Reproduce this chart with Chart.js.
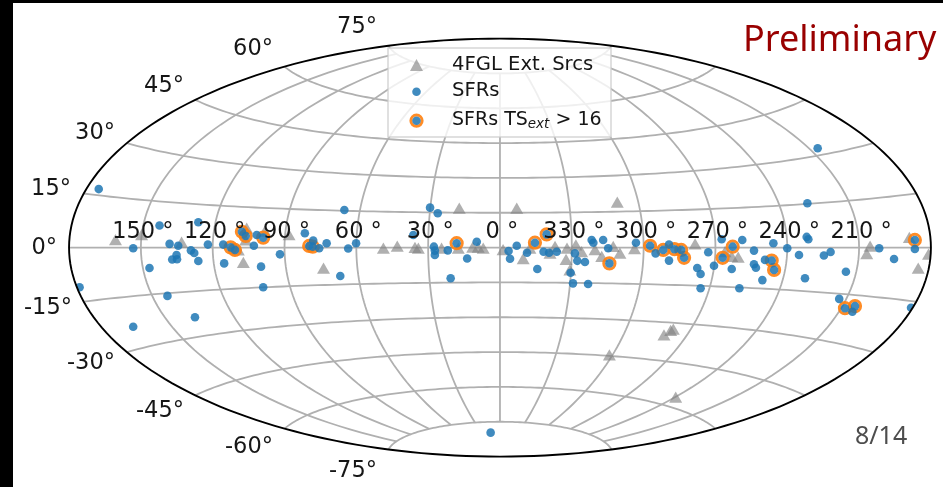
<!DOCTYPE html>
<html>
<head>
<meta charset="utf-8">
<title>SFR sky map</title>
<script src="https://cdn.jsdelivr.net/npm/chart.js@4"></script>
<style>
html,body{margin:0;padding:0;background:#fff;width:943px;height:487px;overflow:hidden}
#wrap{position:relative;width:943px;height:487px;overflow:hidden}
canvas{position:absolute;left:0;top:0;filter:blur(0.55px)}
.bar{position:absolute;background:#000}
#prelim{position:absolute;left:743px;top:14px;font:36px/48px "Noto Sans",sans-serif;color:#990000;white-space:nowrap}
#page{position:absolute;left:855px;top:418px;font:25px/32px "Noto Sans",sans-serif;color:#4d4d4d;white-space:nowrap}
</style>
</head>
<body>
<div id="wrap">
<canvas id="c" width="943" height="487"></canvas>
<div class="bar" style="left:0;top:0;width:13px;height:487px"></div>
<div class="bar" style="left:0;top:0;width:943px;height:3px"></div>
<div id="prelim">Preliminary</div>
<div id="page">8/14</div>
</div>
<script>
// Projected sky coordinates in degrees (Aitoff plane): x to the right, y up.
const extSrcX = [-160.6,-149.7,-133.0,-107.2,-109.3,-105.8,-106.2,-98.2,-88.1,-73.7,-48.7,-42.9,-35.5,-34.1,-24.4,-17.4,-17.0,-11.4,-9.1,-7.0,1.3,7.0,9.7,12.5,20.9,23.0,27.6,28.0,29.2,31.7,34.1,39.7,42.5,47.3,49.0,50.1,45.7,56.2,81.5,94.0,96.8,99.5,72.4,71.3,68.5,73.4,153.2,154.6,171.0,174.7,179.0];
const extSrcY = [2.6,4.8,1.6,-7.2,-1.8,7.6,2.5,6.3,4.8,-9.6,-1.0,-0.2,-0.7,-1.0,-1.0,-1.0,16.2,-0.6,-0.6,-1.0,-1.7,16.2,-5.6,-1.0,-3.2,-0.3,-5.9,-1.0,-10.4,0.4,-2.5,-1.7,-4.6,-0.3,18.8,-3.2,-47.0,-1.3,0.8,-2.5,-4.6,-4.9,-35.9,-36.5,-38.4,-65.2,-3.4,-0.2,3.6,-9.6,-3.6];
const sfrX = [-167.6,-142.2,-126.0,-153.2,-138.0,-134.4,-146.4,-136.9,-134.9,-135.1,-129.1,-127.7,-126.0,-122.0,-115.6,-115.2,-102.8,-99.8,-98.9,-138.9,-175.6,-91.9,-101.6,-81.5,-153.2,-127.4,-65.0,-78.0,-72.4,-75.5,-63.4,-60.1,-66.7,-36.2,-29.2,-26.0,-27.6,-27.2,-27.2,-21.8,-13.7,-9.7,-20.6,7.0,3.6,4.2,11.3,15.6,18.2,20.5,23.7,38.3,39.0,43.1,45.2,56.8,31.3,32.3,35.5,29.5,30.5,36.8,65.0,70.6,70.6,87.0,82.4,83.8,89.4,92.6,101.2,96.8,106.1,106.1,106.9,110.7,109.6,114.2,120.0,124.9,127.4,128.1,128.8,135.3,138.1,128.4,83.8,100.0,132.7,144.5,158.4,164.6,141.7,173.3,171.7,147.2,-3.9];
const sfrY = [25.2,9.5,10.9,-0.3,1.6,0.8,-8.8,-5.1,-5.0,-3.2,-1.2,-2.3,-5.8,1.3,1.3,-6.8,0.8,-8.2,-17.1,-20.8,-17.1,-2.9,5.4,6.2,-34.1,-30.0,16.2,3.0,1.9,-0.3,-0.4,1.9,-12.2,5.4,17.2,14.8,0.4,-3.2,-1.3,-1.2,-4.7,2.5,-13.2,0.8,-1.5,-4.8,-2.2,-9.2,-1.8,-2.2,-1.8,3.3,2.1,3.3,-0.3,2.1,-2.5,-5.7,-6.2,-10.8,-15.4,-15.7,-2.5,1.3,-5.6,-2.0,-8.8,-11.4,-7.8,3.6,3.3,-9.2,-1.3,-7.2,-8.7,-5.3,-14.0,1.9,-0.3,-3.2,-13.2,4.6,3.6,-3.4,-1.9,19.1,-17.5,-17.5,42.8,-10.4,-0.3,-4.9,-22.1,-0.6,-25.9,-27.6,-79.7];
const sfrExtX = [-107.8,-106.2,-98.9,-112.5,-110.7,-79.7,-78.2,-18.1,19.5,14.6,45.7,62.7,68.2,72.9,75.7,76.9,97.2,93.0,113.5,114.5,173.3,144.1,148.3];
const sfrExtY = [6.8,5.0,4.3,0.1,-1.0,0.7,0.4,1.9,5.7,2.1,-6.8,0.8,-1.0,-0.7,-1.0,-4.4,0.4,-4.4,-5.6,-9.6,3.3,-26.1,-25.2];

const lonTickValues = [150,120,90,60,30,0,-30,-60,-90,-120,-150];
const lonTickLabels = ['150 °','120 °','90 °','60 °','30 °','0 °','330 °','300 °','270 °','240 °','210 °'];
const latTickLabels = ['75°','60°','45°','30°','15°','0°','-15°','-30°','-45°','-60°','-75°'];
const legendLabels = ['4FGL Ext. Srcs','SFRs','SFRs TS'];

// Layout only
const latLabelAnchor = [[377,33],[273,55],[184,92],[115,139],[71,195],[57,254],[72,314],[115,369],[184,417],[273,453],[377,477]];
const GRID = '#b0b0b0', TXT = '#161616', GREY = 'rgba(128,128,128,0.62)', BLUE = 'rgba(31,119,180,0.85)', ORANGE = 'rgba(255,127,14,0.9)';

const rad = Math.PI/180;
function aitoff(lonDeg, latDeg){
  const l = lonDeg*rad/2, p = latDeg*rad;
  const a = Math.acos(Math.cos(p)*Math.cos(l));
  const s = a < 1e-6 ? 1 : Math.sin(a)/a;
  return [2*Math.cos(p)*Math.sin(l)/s/rad, Math.sin(p)/s/rad];
}
function pts(xs, ys){ return xs.map((x,i)=>({x:x,y:ys[i]})); }

function tracePath(ctx, chart, n, f){
  const sx = chart.scales.x, sy = chart.scales.y;
  ctx.beginPath();
  for(let i=0;i<=n;i++){
    const q = f(i/n);
    const px = sx.getPixelForValue(q[0]), py = sy.getPixelForValue(q[1]);
    i ? ctx.lineTo(px,py) : ctx.moveTo(px,py);
  }
}
const outline = t => { const a = t*2*Math.PI; return [180*Math.cos(a), 90*Math.sin(a)]; };

const skyMap = {
  id:'skyMap',
  beforeDatasetsDraw(chart){
    const ctx = chart.ctx;
    ctx.save();
    ctx.strokeStyle = GRID; ctx.lineWidth = 1.8;
    for(let lat=-75; lat<=75; lat+=15){
      tracePath(ctx, chart, 120, t => aitoff(-180+360*t, lat)); ctx.stroke();
    }
    for(let lon=-150; lon<=150; lon+=30){
      tracePath(ctx, chart, 80, t => aitoff(lon, -75+150*t)); ctx.stroke();
    }
    ctx.restore();
    ctx.save();
    tracePath(ctx, chart, 240, outline);
    ctx.clip();
  },
  afterDatasetsDraw(chart){
    const ctx = chart.ctx, sx = chart.scales.x, sy = chart.scales.y;
    ctx.restore();
    ctx.save();
    ctx.strokeStyle = '#000'; ctx.lineWidth = 1.9;
    tracePath(ctx, chart, 240, outline); ctx.stroke();

    ctx.fillStyle = TXT;
    ctx.font = '22.5px "DejaVu Sans"';
    ctx.textBaseline = 'alphabetic';
    ctx.textAlign = 'center';
    lonTickLabels.forEach((s,i)=>{
      ctx.fillText(s, sx.getPixelForValue(-lonTickValues[i])+2, 238);
    });
    ctx.textAlign = 'right';
    latTickLabels.forEach((s,i)=>{
      ctx.fillText(s, latLabelAnchor[i][0], latLabelAnchor[i][1]);
    });

    // legend
    ctx.fillStyle = 'rgba(255,255,255,0.8)';
    ctx.fillRect(388,48,223,89);
    ctx.strokeStyle = 'rgba(204,204,204,0.8)'; ctx.lineWidth = 1.5;
    ctx.strokeRect(388,48,223,89);
    const mx = 416.5;
    ctx.fillStyle = GREY;
    ctx.beginPath(); ctx.moveTo(mx,59); ctx.lineTo(mx+6.5,71); ctx.lineTo(mx-6.5,71); ctx.closePath(); ctx.fill();
    ctx.fillStyle = BLUE;
    ctx.beginPath(); ctx.arc(mx,91.7,4.3,0,7); ctx.fill();
    ctx.strokeStyle = ORANGE; ctx.lineWidth = 3;
    ctx.beginPath(); ctx.arc(mx,120.7,5.6,0,7); ctx.stroke();
    ctx.fillStyle = BLUE;
    ctx.beginPath(); ctx.arc(mx,120.7,4.3,0,7); ctx.fill();

    ctx.fillStyle = TXT; ctx.textAlign = 'left';
    ctx.font = '19.6px "DejaVu Sans"';
    ctx.fillText(legendLabels[0], 452, 70);
    ctx.fillText(legendLabels[1], 452, 96);
    ctx.font = '19px "DejaVu Sans"';
    ctx.fillText(legendLabels[2], 452, 125);
    let w = ctx.measureText(legendLabels[2]).width;
    ctx.font = 'italic 13.5px "DejaVu Sans"';
    ctx.fillText('ext', 452+w, 128);
    w += ctx.measureText('ext').width;
    ctx.font = '19px "DejaVu Sans"';
    ctx.fillText(' > 16', 452+w, 125);
    ctx.restore();
  }
};

new Chart(document.getElementById('c'), {
  type:'scatter',
  data:{datasets:[
    {label:'4FGL Ext. Srcs', data:pts(extSrcX,extSrcY), order:3, pointStyle:'triangle', pointRadius:7.5, backgroundColor:GREY, borderWidth:0},
    {label:'SFRs TS_ext > 16', data:pts(sfrExtX,sfrExtY), order:2, pointStyle:'circle', pointRadius:5.6, backgroundColor:'rgba(0,0,0,0)', borderColor:ORANGE, borderWidth:3},
    {label:'SFRs', data:pts(sfrX.concat(sfrExtX),sfrY.concat(sfrExtY)), order:1, pointStyle:'circle', pointRadius:4.3, backgroundColor:BLUE, borderWidth:0}
  ]},
  options:{
    responsive:false, animation:false, devicePixelRatio:1,
    layout:{padding:0, autoPadding:false},
    events:[],
    plugins:{legend:{display:false},tooltip:{enabled:false},title:{display:false}},
    scales:{
      x:{type:'linear',display:false,min:-208.84,max:185.05},
      y:{type:'linear',display:false,min:-103.1,max:106.63}
    }
  },
  plugins:[skyMap]
});
</script>
</body>
</html>
